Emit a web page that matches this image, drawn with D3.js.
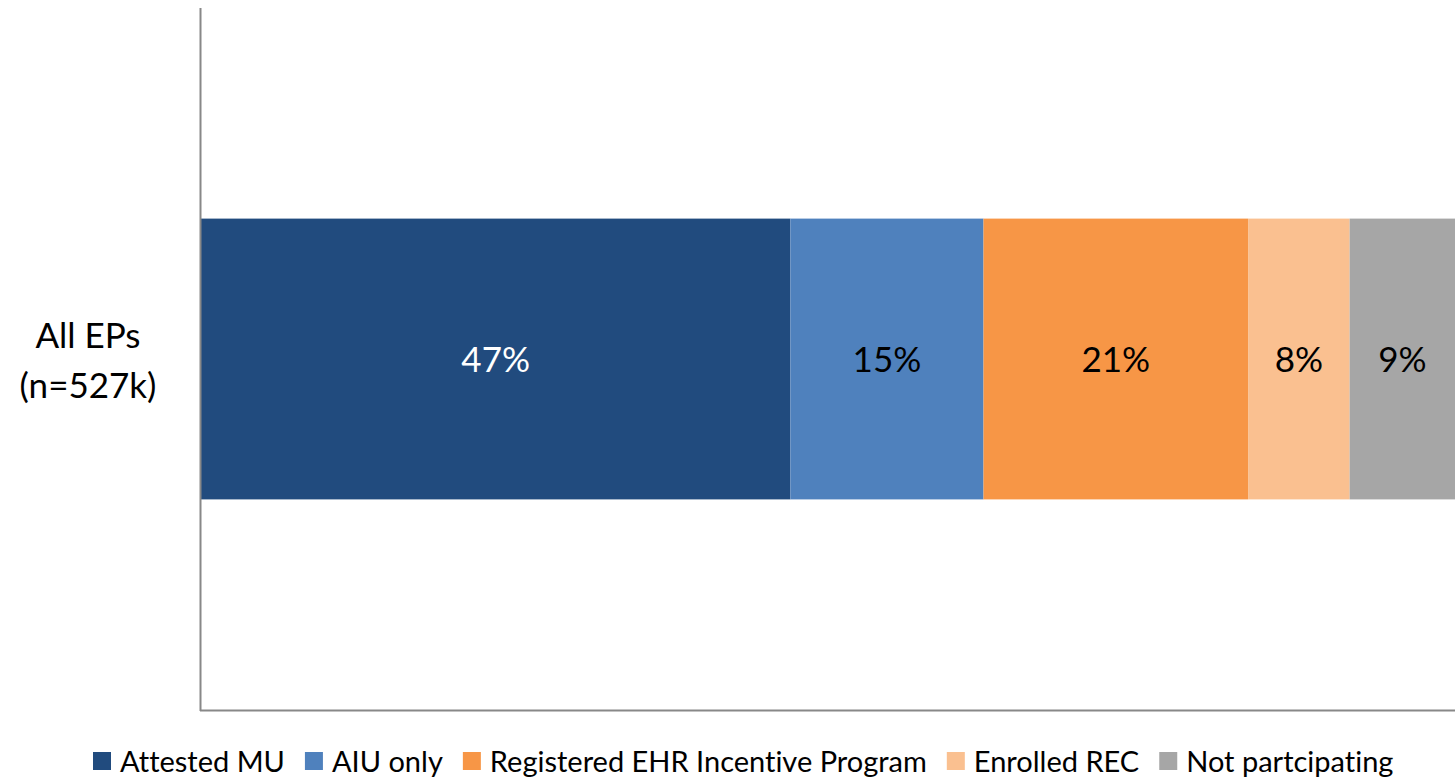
<!DOCTYPE html>
<html><head><meta charset="utf-8">
<script src="https://cdn.jsdelivr.net/npm/d3@7"></script>
<style>body{margin:0;background:#fff;}svg{display:block;}text{font-family:Lato,"Open Sans",sans-serif;font-variant-ligatures:none;}</style>
</head><body>
<svg id="c" width="1455" height="778"></svg>
<script>
const categories = ["All EPs (n=527k)"];
const seriesNames = ["Attested MU","AIU only","Registered EHR Incentive Program","Enrolled REC","Not partcipating"];
const seriesValues = [47.0, 15.4, 21.1, 8.1, 8.4];
const seriesLabels = ["47%","15%","21%","8%","9%"];
const seriesColors = ["#214b7e","#4f81bd","#f79646","#fac090","#a6a6a6"];
const labelColors = ["#ffffff","#000000","#000000","#000000","#000000"];

const svg = d3.select("#c");
const m = {left:201, right:1455, top:8, bottom:710};
const x = d3.scaleLinear().domain([0, d3.sum(seriesValues)]).range([m.left, m.right]);
const y = d3.scaleBand().domain(categories).range([m.top, m.bottom]).paddingInner(0.6).paddingOuter(0.3);

let acc = 0;
const segs = seriesValues.map((v,i)=>{const s={i, x0:acc, x1:acc+v}; acc+=v; return s;});

const g = svg.append("g");
g.selectAll("rect.seg").data(segs).join("rect")
  .attr("x", d=>x(d.x0)).attr("width", d=>x(d.x1)-x(d.x0))
  .attr("y", y(categories[0])).attr("height", y.bandwidth())
  .attr("fill", d=>seriesColors[d.i]);

g.selectAll("text.lab").data(segs).join("text")
  .attr("x", d=>(x(d.x0)+x(d.x1))/2).attr("y", y(categories[0])+y.bandwidth()/2)
  .attr("dy","0.36em").attr("text-anchor","middle")
  .attr("font-size", 35).attr("fill", d=>labelColors[d.i])
  .text(d=>seriesLabels[d.i]);

// axes lines
svg.append("line").attr("x1",200.5).attr("x2",200.5).attr("y1",m.top).attr("y2",m.bottom+1).attr("stroke","#888").attr("stroke-width",2);
svg.append("line").attr("x1",200).attr("x2",1455).attr("y1",m.bottom+0.5).attr("y2",m.bottom+0.5).attr("stroke","#888").attr("stroke-width",2);

// category label
const cy = y(categories[0])+y.bandwidth()/2;
const cl = svg.append("text").attr("text-anchor","middle").attr("font-size",35).attr("fill","#000");
cl.append("tspan").attr("x",88).attr("y",cy-24).attr("dy","0.36em").text("All EPs");
cl.append("tspan").attr("x",88).attr("y",cy+26).attr("dy","0.36em").text("(n=527k)");

// legend
const leg = svg.append("g");
let lx = 93;
seriesNames.forEach((n,i)=>{
  leg.append("rect").attr("x",lx).attr("y",752).attr("width",18).attr("height",18).attr("fill",seriesColors[i]);
  const t = leg.append("text").attr("x",lx+27).attr("y",772).attr("font-size",29).attr("fill","#000").text(n);
  lx += 27 + t.node().getComputedTextLength() + 20;
});
</script>
</body></html>
